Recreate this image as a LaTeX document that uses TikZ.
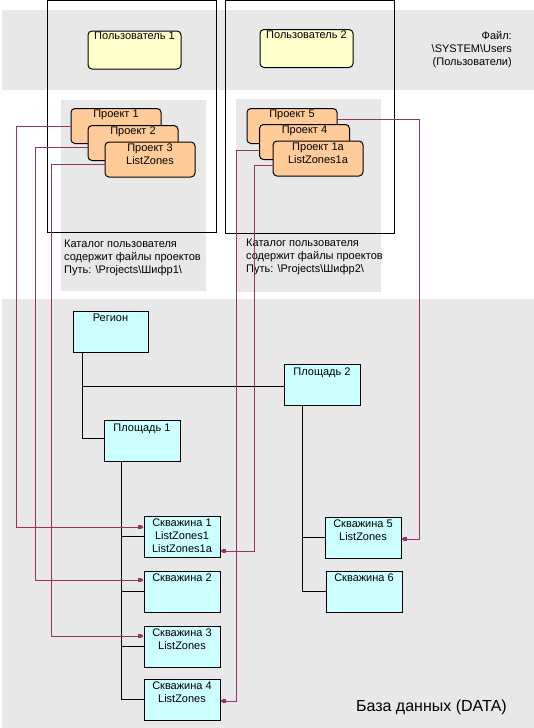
\documentclass[tikz,border=0pt]{standalone}
\usepackage{fontspec}
\setmainfont{Liberation Sans}
\usepackage{xcolor}
\usetikzlibrary{arrows.meta, positioning}

\definecolor{band}{HTML}{E8E8E8}
\definecolor{userfill}{HTML}{FFFFCC}
\definecolor{projfill}{HTML}{FFCC99}
\definecolor{datafill}{HTML}{CCFFFF}
\definecolor{linkcol}{HTML}{993366}

\begin{document}
\begin{tikzpicture}[x = 1pt, y = -1pt,
		font = \fontsize{11}{13}\selectfont,
		user/.style = {draw, line width=1pt, fill=userfill, rounded corners=4pt, minimum width=93pt, minimum height=38pt},
		proj/.style = {draw, line width=1pt, fill=projfill, rounded corners=4pt, minimum width=90pt, minimum height=35pt},
		rec/.style = {draw, line width=1pt, fill=datafill, minimum width=76pt, minimum height=41pt},
		boxtext/.style = {anchor=north, align=center, inner sep=2pt},
		link/.style = {-{Square[length=3pt, width=3.5pt] Triangle[length=2.5pt, width=3.5pt]}, line width=0.8pt, linkcol},
		tree/.style = {line width=0.8pt}]
			\useasboundingbox (0, 0) rectangle (534, 728);
			
			\fill [band] (2, 10) rectangle (534, 90);
			\fill [band] (2, 299) rectangle (534, 728);
			\fill [band] (61, 100) rectangle (206, 291);
			\fill [band] (236, 99) rectangle (381, 292);
			
			\draw [line width=1pt] (47.5, 0.5) rectangle (216, 232);
			\draw [line width=1pt] (225.5, 0.5) rectangle (394, 233);
			
			\node [user] (u1) at (134.5, 50) {};
			\node [boxtext, inner sep=1.5pt] (u1t) at (u1.north) {Пользователь 1};
			\node [user] (u2) at (306.5, 48.5) {};
			\node [boxtext, inner sep=1.5pt] (u2t) at (u2.north) {Пользователь 2};
			
			\node [anchor=north east, align=right, inner sep=2pt] (file) at (514, 29) {Файл:\\\textbackslash SYSTEM\textbackslash Users\\(Пользователи)};
			
			\node [proj] (p1) at (116, 126) {};
			\node [boxtext] (p1t) at (p1.north) {Проект 1};
			\node [proj] (p2) at (133, 143) {};
			\node [boxtext] (p2t) at (p2.north) {Проект 2};
			\node [proj] (p3) at (150, 159.5) {};
			\node [boxtext] (p3t) at (p3.north) {Проект 3\\ListZones};
			
			\node [proj] (p5) at (292, 126) {};
			\node [boxtext] (p5t) at (p5.north) {Проект 5};
			\node [proj] (p4) at (304.5, 142) {};
			\node [boxtext] (p4t) at (p4.north) {Проект 4};
			\node [proj] (p1a) at (318, 158.5) {};
			\node [boxtext] (p1at) at (p1a.north) {Проект 1a\\ListZones1a};
			
			\node [anchor=north west, align=left, inner sep=2pt] (cat1) at (62, 238) {Каталог пользователя\\содержит файлы проектов\\Путь: \textbackslash Projects\textbackslash Шифр1\textbackslash};
			\node [anchor=north west, align=left, inner sep=2pt] (cat2) at (244, 237) {Каталог пользователя\\содержит файлы проектов\\Путь: \textbackslash Projects\textbackslash Шифр2\textbackslash};
			
			\node [rec, minimum width=75pt] (reg) at (110.5, 331.5) {};
			\node [boxtext, inner sep=3.5pt] (regt) at (reg.north) {Регион};
			\node [rec] (pl2) at (322, 384.75) {};
			\node [boxtext, inner sep=3.5pt] (pl2t) at (pl2.north) {Площадь 2};
			\node [rec] (pl1) at (142, 440.75) {};
			\node [boxtext, inner sep=3.5pt] (pl1t) at (pl1.north) {Площадь 1};
			
			\node [rec] (s1) at (182, 536.5) {};
			\node [boxtext, inner sep=3.5pt] (s1t) at (s1.north) {Скважина 1\\ListZones1\\ListZones1a};
			\node [rec] (s2) at (182, 591.5) {};
			\node [boxtext, inner sep=3.5pt] (s2t) at (s2.north) {Скважина 2};
			\node [rec] (s3) at (182, 646.5) {};
			\node [boxtext, inner sep=3.5pt] (s3t) at (s3.north) {Скважина 3\\ListZones};
			\node [rec] (s4) at (182, 699.5) {};
			\node [boxtext, inner sep=3.5pt] (s4t) at (s4.north) {Скважина 4\\ListZones};
			\node [rec] (s5) at (363, 537.5) {};
			\node [boxtext, inner sep=3.5pt] (s5t) at (s5.north) {Скважина 5\\ListZones};
			\node [rec] (s6) at (364, 591.5) {};
			\node [boxtext, inner sep=3.5pt] (s6t) at (s6.north) {Скважина 6};
			
			\draw [tree] ([xshift=10pt]reg.south west) |- ([yshift=2.5pt]pl1.west);
			\draw [tree] ([xshift=10pt]reg.south west) |- ([yshift=-2pt]pl2.west);
			
			\draw [tree] ([xshift=18pt]pl1.south west) |- (s1.west);
			\draw [tree] ([xshift=18pt]pl1.south west) |- (s2.west);
			\draw [tree] ([xshift=18pt]pl1.south west) |- (s3.west);
			\draw [tree] ([xshift=18pt]pl1.south west) |- (s4.west);
			
			\draw [tree] ([xshift=19pt]pl2.south west) |- (s5.west);
			\draw [tree] ([xshift=19pt]pl2.south west) |- (s6.west);
			
			\draw [link] (p1.west) -- ++(-54, 0) |- ([yshift=9.5pt]s1.west);
			\draw [link] ([yshift=-4pt]p2.west) -- ++(-52, 0) |- ([yshift=11.5pt]s2.west);
			\draw [link] ([yshift=-4.5pt]p3.west) -- ++(-53, 0) |- ([yshift=10.5pt]s3.west);
			
			\draw [link] ([yshift=-8pt]p4.west) -- ++(-23, 0) |- ([yshift=-1.5pt]s4.east);
			\draw [link] ([yshift=-6.5pt]p1a.west) -- ++(-18, 0) |- ([yshift=-14.5pt]s1.east);
			\draw [link] ([yshift=7pt]p5.east) -- ++(82, 0) |- ([yshift=-1.5pt]s5.east);
			
			\node [anchor=east, font=\fontsize{16}{19}\selectfont, inner sep=0pt] (db) at (507, 707) {База данных (DATA)};
		\end{tikzpicture}
\end{document}
